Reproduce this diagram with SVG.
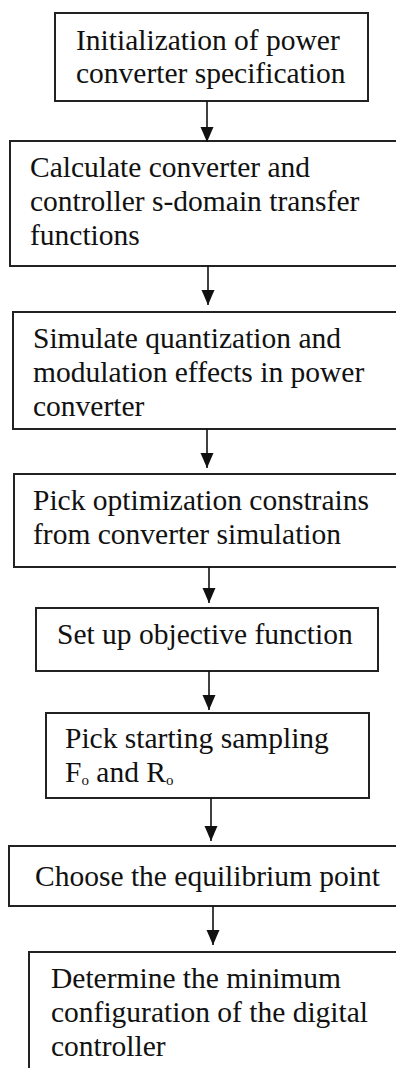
<svg xmlns="http://www.w3.org/2000/svg" width="396" height="1068" viewBox="0 0 396 1068">
<style>
.box{fill:#fff;stroke:#222;stroke-width:2}
.t{font-family:"Liberation Serif","Times New Roman",serif;font-size:29.5px;fill:#111}
.sub{font-size:15px}
.c{stroke:#111;stroke-width:1.6;fill:none;marker-end:url(#ah)}
</style>
<defs>
<marker id="ah" markerUnits="userSpaceOnUse" markerWidth="15" markerHeight="14" refX="15" refY="7" orient="auto">
<path d="M0,0.5 L15,7 L0,13.5 z" fill="#111"/>
</marker>
</defs>
<rect width="396" height="1068" fill="#fff"/>
<g id="n1"><rect class="box" x="55" y="13" width="313" height="88"/>
<text class="t" x="76" y="50">Initialization of power</text>
<text class="t" x="76" y="83">converter specification</text></g>
<g id="n2"><rect class="box" x="10" y="141" width="400" height="125"/>
<text class="t" x="30" y="177">Calculate converter and</text>
<text class="t" x="30" y="211">controller s-domain transfer</text>
<text class="t" x="30" y="245">functions</text></g>
<g id="n3"><rect class="box" x="13" y="312" width="400" height="117"/>
<text class="t" x="33" y="348">Simulate quantization and</text>
<text class="t" x="33" y="382">modulation effects in power</text>
<text class="t" x="33" y="416">converter</text></g>
<g id="n4"><rect class="box" x="14" y="474" width="400" height="93"/>
<text class="t" x="33" y="510">Pick optimization constrains</text>
<text class="t" x="33" y="544">from converter simulation</text></g>
<g id="n5"><rect class="box" x="36" y="608" width="342" height="63"/>
<text class="t" x="57" y="644">Set up objective function</text></g>
<g id="n6"><rect class="box" x="46" y="713" width="323" height="85"/>
<text class="t" x="65" y="748">Pick starting sampling</text>
<text class="t" x="65" y="782">F<tspan class="sub" dy="3">o</tspan><tspan dy="-3"> and R</tspan><tspan class="sub" dy="3">o</tspan></text></g>
<g id="n7"><rect class="box" x="9" y="846" width="400" height="60"/>
<text class="t" x="35" y="886">Choose the equilibrium point</text></g>
<g id="n8"><rect class="box" x="29" y="952" width="400" height="130"/>
<text class="t" x="51" y="988">Determine the minimum</text>
<text class="t" x="51" y="1022">configuration of the digital</text>
<text class="t" x="51" y="1056">controller</text></g>
<g id="connectors">
<line class="c" x1="207" y1="101" x2="207" y2="142"/>
<line class="c" x1="208" y1="266" x2="208" y2="305"/>
<line class="c" x1="207" y1="429" x2="207" y2="468"/>
<line class="c" x1="209" y1="567" x2="209" y2="603"/>
<line class="c" x1="209" y1="671" x2="209" y2="710"/>
<line class="c" x1="211" y1="798" x2="211" y2="841"/>
<line class="c" x1="213" y1="906" x2="213" y2="945"/>
</g>
</svg>
